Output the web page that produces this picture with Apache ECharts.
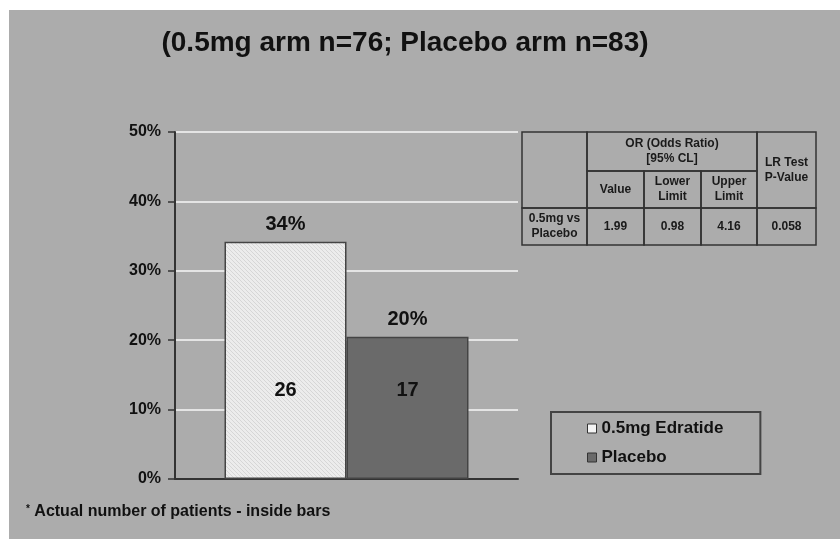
<!DOCTYPE html>
<html>
<head>
<meta charset="utf-8">
<script src="https://cdn.jsdelivr.net/npm/echarts@6/dist/echarts.min.js"></script>
<style>
  html, body { margin: 0; padding: 0; background: #fff; }
  #chart {
    width: 840px;
    height: 539px;
    background: #acacac;
    box-shadow: inset 9px 10px 0 #fff;
  }
</style>
</head>
<body>
<div id="chart"></div>
<script>
// chart data
const arms = ["0.5mg Edratide", "Placebo"];
const pctValues = [34.2, 20.5];
const pctLabels = ["34%", "20%"];
const patientCounts = [26, 17];
const armColors = ["#e9e9e9", "#6a6a6a"];

// odds ratio table
const orHeader = "OR (Odds Ratio)\n[95% CL]";
const subHeaders = ["Value", "Lower\nLimit", "Upper\nLimit"];
const pHeader = "LR Test\nP-Value";
const rowLabel = "0.5mg vs\nPlacebo";
const rowValues = ["1.99", "0.98", "4.16", "0.058"];

const chart = echarts.init(document.getElementById("chart"));

// light hatch for the first bar
const hatch = document.createElement("canvas");
hatch.width = 4;
hatch.height = 4;
const hc = hatch.getContext("2d");
hc.fillStyle = "#ececec";
hc.fillRect(0, 0, 4, 4);
hc.strokeStyle = "#d6d6d6";
hc.lineWidth = 1;
hc.beginPath();
hc.moveTo(0, 0);
hc.lineTo(4, 4);
hc.stroke();

const txt = "#111";
const font = "Liberation Sans, Arial, sans-serif";

// table graphic
const colX = [522, 587, 644, 701, 757, 816];
const rowY = [132, 171, 208, 245];
const cells = [];
function cell(x1, y1, x2, y2, text) {
  cells.push({
    type: "rect",
    shape: { x: x1, y: y1, width: x2 - x1, height: y2 - y1 },
    style: { fill: "none", stroke: "#333", lineWidth: 1.5 }
  });
  if (text) {
    cells.push({
      type: "text",
      x: (x1 + x2) / 2,
      y: (y1 + y2) / 2,
      style: {
        text: text,
        fill: "#1a1a1a",
        font: "bold 12px " + font,
        lineHeight: 15,
        align: "center",
        verticalAlign: "middle"
      }
    });
  }
}
cell(colX[0], rowY[0], colX[1], rowY[2], "");
cell(colX[1], rowY[0], colX[4], rowY[1], orHeader);
for (let i = 0; i < 3; i++) {
  cell(colX[i + 1], rowY[1], colX[i + 2], rowY[2], subHeaders[i]);
}
cell(colX[4], rowY[0], colX[5], rowY[2], pHeader);
cell(colX[0], rowY[2], colX[1], rowY[3], rowLabel);
for (let i = 0; i < 4; i++) {
  cell(colX[i + 1], rowY[2], colX[i + 2], rowY[3], rowValues[i]);
}

const barSeries = arms.map(function (name, i) {
  return {
    name: name,
    type: "bar",
    xAxisIndex: 0,
    data: [pctValues[i]],
    barWidth: 122,
    barGap: 0,
    itemStyle: {
      color: i === 0 ? { image: hatch, repeat: "repeat" } : armColors[i],
      borderColor: "#444",
      borderWidth: 1.5
    },
    label: {
      show: true,
      position: "top",
      distance: 7,
      color: txt,
      fontFamily: font,
      fontWeight: "bold",
      fontSize: 20,
      formatter: function () { return pctLabels[i]; }
    }
  };
});

const countSeries = arms.map(function (name, i) {
  return {
    type: "bar",
    xAxisIndex: 1,
    data: [pctValues[i]],
    barWidth: 122,
    barGap: 0,
    silent: true,
    z: 3,
    itemStyle: { color: "transparent" },
    label: {
      show: true,
      position: "insideBottom",
      distance: 79,
      color: txt,
      fontFamily: font,
      fontWeight: "bold",
      fontSize: 20,
      formatter: function () { return String(patientCounts[i]); }
    }
  };
});

chart.setOption({
  animation: false,
  title: {
    text: "(0.5mg arm n=76; Placebo arm n=83)",
    left: 400,
    textAlign: "center",
    top: 24,
    textStyle: { color: txt, fontFamily: font, fontWeight: "bold", fontSize: 28 }
  },
  grid: { left: 175, right: 322, top: 132, bottom: 60 },
  legend: {
    data: arms.map(function (name, i) {
      return { name: name, itemStyle: { color: i === 0 ? "#f4f4f4" : armColors[i], borderColor: "#333", borderWidth: 1 } };
    }),
    orient: "vertical",
    left: 551,
    top: 412,
    padding: [8, 37, 8, 36],
    itemGap: 12,
    itemWidth: 9,
    itemHeight: 9,
    icon: "rect",
    borderColor: "#444",
    borderWidth: 2,
    textStyle: { color: txt, fontFamily: font, fontWeight: "bold", fontSize: 17 }
  },
  xAxis: [
    {
      type: "category",
      data: [""],
      axisLine: { lineStyle: { color: "#333", width: 2 } },
      axisTick: { show: false },
      axisLabel: { show: false }
    },
    { type: "category", data: [""], show: false }
  ],
  yAxis: {
    type: "value",
    min: 0,
    max: 50,
    interval: 10,
    axisLine: { show: true, lineStyle: { color: "#333", width: 2 } },
    axisTick: { show: true, length: 7, lineStyle: { color: "#333", width: 1.5 } },
    axisLabel: {
      formatter: "{value}%",
      margin: 14,
      color: txt,
      fontFamily: font,
      fontWeight: "bold",
      fontSize: 16
    },
    splitLine: { lineStyle: { color: "#e4e4e4", width: 2 } }
  },
  series: barSeries.concat(countSeries),
  graphic: cells.concat([
    {
      type: "text",
      left: 26,
      top: 504,
      style: {
        text: "{a|*} Actual number of patients - inside bars",
        fill: txt,
        font: "bold 16px " + font,
        rich: { a: { fontSize: 10, verticalAlign: "top", fontWeight: "bold", fill: txt } }
      }
    }
  ])
});
</script>
</body>
</html>
